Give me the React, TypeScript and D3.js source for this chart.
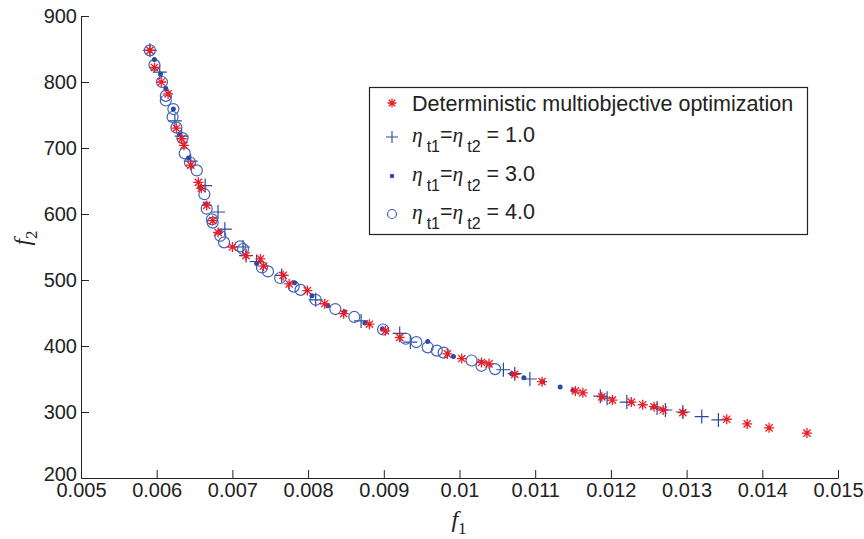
import React, { useEffect, useRef } from 'react';
import * as d3 from 'd3';

// tick values / labels
const xTicks = [0.005, 0.006, 0.007, 0.008, 0.009, 0.01, 0.011, 0.012, 0.013, 0.014, 0.015];
const xTickLabels = ['0.005', '0.006', '0.007', '0.008', '0.009', '0.01', '0.011', '0.012', '0.013', '0.014', '0.015'];
const yTicks = [200, 300, 400, 500, 600, 700, 800, 900];

// Pareto fronts [f1, f2]
const deterministic: [number, number][] = [
  [0.00591, 848], [0.00597, 822], [0.00606, 800], [0.00615, 782], [0.00626, 730], [0.00633, 714],
  [0.00636, 704], [0.00645, 674], [0.00655, 648], [0.00659, 639], [0.00666, 613], [0.00674, 590],
  [0.00681, 572], [0.007, 550], [0.00718, 537], [0.00737, 532], [0.00741, 521], [0.00767, 507],
  [0.00775, 494], [0.00799, 484], [0.00822, 464], [0.00847, 449], [0.00881, 433], [0.00902, 423],
  [0.00921, 413], [0.00984, 388], [0.01003, 381], [0.01029, 375], [0.01039, 373], [0.01073, 357],
  [0.01109, 346], [0.01153, 332], [0.01163, 329], [0.01188, 323], [0.01202, 318], [0.01227, 315],
  [0.01242, 311], [0.01257, 308], [0.01269, 303], [0.01295, 299], [0.01353, 289], [0.0138, 282],
  [0.01409, 276], [0.01459, 268],
];

const eta1: [number, number][] = [
  [0.00591, 848], [0.00604, 815], [0.00624, 741], [0.00633, 718], [0.00645, 680], [0.00664, 643],
  [0.00681, 603], [0.0069, 577], [0.00714, 550], [0.00718, 537], [0.00732, 528], [0.00765, 507],
  [0.0081, 470], [0.0087, 438], [0.00921, 419], [0.00935, 406], [0.01058, 364], [0.01073, 358],
  [0.01093, 350], [0.01186, 324], [0.01195, 321], [0.01221, 315], [0.01261, 306], [0.01272, 303],
  [0.01295, 300], [0.0132, 293], [0.01342, 288],
];

const eta3: [number, number][] = [
  [0.00591, 848], [0.00597, 834], [0.00605, 812], [0.00612, 790], [0.00622, 759], [0.0063, 720],
  [0.00642, 685], [0.00657, 640], [0.00665, 615], [0.00683, 572], [0.00732, 525], [0.00782, 496],
  [0.00805, 476], [0.00826, 461], [0.00848, 452], [0.00875, 435], [0.00898, 426], [0.00958, 407],
  [0.00992, 384], [0.01069, 358], [0.01085, 352], [0.0111, 346], [0.01133, 338], [0.0115, 333],
  [0.01188, 323], [0.01257, 308], [0.01295, 300],
];

const eta4: [number, number][] = [
  [0.00591, 848], [0.00597, 826], [0.00607, 800], [0.00612, 779], [0.00612, 772], [0.00622, 759],
  [0.00621, 747], [0.00626, 731], [0.00634, 715], [0.00637, 692], [0.00644, 678], [0.00653, 666],
  [0.00663, 630], [0.00666, 608], [0.00673, 592], [0.00674, 587], [0.00684, 567], [0.00689, 557],
  [0.0071, 551], [0.00714, 547], [0.00739, 519], [0.00747, 513], [0.00763, 503], [0.00781, 490],
  [0.0079, 485], [0.0081, 470], [0.00836, 456], [0.00861, 444], [0.00899, 425], [0.00929, 411],
  [0.00943, 406], [0.00958, 398], [0.0097, 393], [0.00979, 390], [0.01016, 378], [0.01029, 370],
  [0.01047, 365],
];

const legendValues = ['1.0', '3.0', '4.0'];

const RED = '#ec1c24';
const BLUE = '#2b4a9f';
const BLUE_O = '#4262b8';
const SANS = '"Liberation Sans", Arial, Helvetica, sans-serif';
const SERIF = '"Liberation Serif", "Times New Roman", serif';

const starPath = (s: number) => {
  const a = s * 0.72;
  return `M${-s},0H${s}M0,${-s}V${s}M${-a},${-a}L${a},${a}M${-a},${a}L${a},${-a}`;
};
const plusPath = (s: number) => `M${-s},0H${s}M0,${-s}V${s}`;

const App = () => {
  const ref = useRef<SVGSVGElement>(null);

  useEffect(() => {
    const svg = d3.select(ref.current);
    svg.selectAll('*').remove();

    const x = d3.scaleLinear().domain([0.005, 0.015]).range([81, 838]);
    const y = d3.scaleLinear().domain([200, 900]).range([478, 16]);

    // axes
    const gx = svg.append('g')
      .attr('transform', `translate(0,${y(200)})`)
      .call(d3.axisBottom(x).tickValues(xTicks).tickFormat((d, i) => xTickLabels[i])
        .tickSize(-8).tickSizeOuter(0).tickPadding(5));
    const gy = svg.append('g')
      .attr('transform', `translate(${x(0.005)},0)`)
      .call(d3.axisLeft(y).tickValues(yTicks).tickFormat(d3.format('d'))
        .tickSize(-8).tickSizeOuter(0).tickPadding(4));
    [gx, gy].forEach(g => {
      g.attr('font-family', SANS).attr('font-size', 20);
      g.selectAll('path, line').attr('stroke', '#222').attr('stroke-width', 1);
      g.selectAll('text').attr('fill', '#222');
    });
    // the 200 label sits right on the 0.005 label corner; lift it a little
    gy.selectAll<SVGTextElement, number>('text').filter(d => d === 200).attr('y', -4);

    // axis labels
    const fx = svg.append('text').attr('x', 459).attr('y', 527).attr('text-anchor', 'middle')
      .attr('font-family', SERIF).attr('font-size', 24).attr('fill', '#222');
    fx.append('tspan').attr('font-style', 'italic').text('f');
    fx.append('tspan').attr('dy', 7).attr('font-size', 17).text('1');

    const fy = svg.append('text').attr('transform', `translate(30,238) rotate(-90)`)
      .attr('text-anchor', 'middle').attr('font-family', SERIF).attr('font-size', 24).attr('fill', '#222');
    fy.append('tspan').attr('font-style', 'italic').text('f');
    fy.append('tspan').attr('dy', 7).attr('font-size', 17).text('2');

    // series
    const plot = svg.append('g');
    plot.selectAll('path.plus').data(eta1).join('path').attr('class', 'plus')
      .attr('transform', d => `translate(${x(d[0])},${y(d[1])})`)
      .attr('d', plusPath(7)).attr('stroke', BLUE).attr('stroke-width', 1.2).attr('fill', 'none');
    plot.selectAll('circle.ring').data(eta4).join('circle').attr('class', 'ring')
      .attr('cx', d => x(d[0])).attr('cy', d => y(d[1])).attr('r', 5.5)
      .attr('fill', 'none').attr('stroke', BLUE_O).attr('stroke-width', 1.2);
    plot.selectAll('circle.dot').data(eta3).join('circle').attr('class', 'dot')
      .attr('cx', d => x(d[0])).attr('cy', d => y(d[1])).attr('r', 2.5).attr('fill', BLUE);
    plot.selectAll('path.star').data(deterministic).join('path').attr('class', 'star')
      .attr('transform', d => `translate(${x(d[0])},${y(d[1])})`)
      .attr('d', starPath(5)).attr('stroke', RED).attr('stroke-width', 1.3).attr('fill', 'none');

    // legend
    const lg = svg.append('g');
    lg.append('rect').attr('x', 369.5).attr('y', 87.5).attr('width', 438).attr('height', 147)
      .attr('fill', 'white').attr('stroke', '#222').attr('stroke-width', 1.2);
    const mx = 392;
    const rows = [103, 137, 176, 214];
    lg.append('path').attr('transform', `translate(${mx},${rows[0]})`).attr('d', starPath(4.5))
      .attr('stroke', RED).attr('stroke-width', 1.3).attr('fill', 'none');
    lg.append('path').attr('transform', `translate(${mx},${rows[1]})`).attr('d', plusPath(6))
      .attr('stroke', BLUE).attr('stroke-width', 1.1).attr('fill', 'none');
    lg.append('circle').attr('cx', mx).attr('cy', rows[2]).attr('r', 2.2).attr('fill', BLUE);
    lg.append('circle').attr('cx', mx).attr('cy', rows[3]).attr('r', 4.5)
      .attr('fill', 'none').attr('stroke', BLUE_O).attr('stroke-width', 1.2);

    lg.append('text').attr('x', 412).attr('y', rows[0] + 8).attr('font-family', SANS)
      .attr('font-size', 21.5).attr('fill', '#222').text('Deterministic multiobjective optimization');

    legendValues.forEach((v, i) => {
      const t = lg.append('text').attr('x', 412).attr('y', rows[i + 1] + 5)
        .attr('font-family', SANS).attr('font-size', 21.5).attr('fill', '#222');
      t.append('tspan').attr('font-family', SERIF).attr('font-style', 'italic').text('η');
      t.append('tspan').attr('dx', 4).attr('dy', 10).attr('font-size', 16).text('t1');
      t.append('tspan').attr('dy', -10).text('=');
      t.append('tspan').attr('font-family', SERIF).attr('font-style', 'italic').text('η');
      t.append('tspan').attr('dx', 4).attr('dy', 10).attr('font-size', 16).text('t2');
      t.append('tspan').attr('dy', -10).text(` = ${v}`);
    });
  }, []);

  return (
    <svg ref={ref} width={864} height={539}
      style={{ position: 'absolute', left: 0, top: 0, background: 'white' }} />
  );
};

export default App;
